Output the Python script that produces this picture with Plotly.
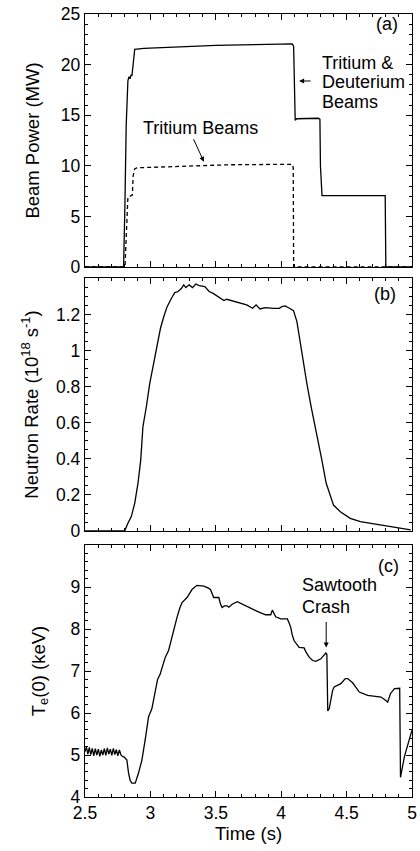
import plotly.graph_objects as go

# ---------------- data ----------------
# (a) beam power, MW
t_td = [2.50, 2.795, 2.805, 2.815, 2.828, 2.836, 2.845, 2.852, 2.859, 2.870, 2.880, 2.95, 3.10, 3.30,
        3.50, 3.70, 3.90, 4.05, 4.085, 4.095, 4.100, 4.107, 4.12, 4.20, 4.285, 4.296, 4.300, 4.312,
        4.40, 4.60, 4.795, 4.800, 5.00]
p_td = [0, 0, 6.0, 14.0, 18.4, 18.8, 18.6, 19.0, 18.9, 20.6, 21.5, 21.6, 21.7, 21.8,
        21.9, 21.95, 22.0, 22.05, 22.05, 21.8, 17.0, 14.5, 14.65, 14.7, 14.7, 14.6, 10.0, 7.05,
        7.05, 7.05, 7.05, 0, 0]

t_t = [2.50, 2.806, 2.812, 2.828, 2.845, 2.862, 2.868, 2.880, 2.895, 3.00, 3.20, 3.40, 3.60,
       3.80, 4.00, 4.085, 4.092, 4.095, 5.00]
p_t = [0, 0, 2.0, 6.9, 7.0, 7.1, 9.0, 9.7, 9.8, 9.85, 9.95, 10.05, 10.1,
       10.12, 10.15, 10.15, 9.8, 0, 0]

# (b) neutron rate, 1e18 /s
t_n = [2.50, 2.803, 2.828, 2.854, 2.880, 2.905, 2.926, 2.943, 2.969, 2.995, 3.020, 3.046, 3.077,
       3.102, 3.128, 3.161, 3.186, 3.212, 3.238, 3.255, 3.271, 3.296, 3.322, 3.347, 3.373, 3.416,
       3.449, 3.480, 3.506, 3.537, 3.562, 3.583, 3.621, 3.660, 3.710, 3.736, 3.782, 3.808, 3.838,
       3.877, 3.940, 3.986, 4.005, 4.030, 4.063, 4.094, 4.120, 4.145, 4.166, 4.196, 4.229, 4.260,
       4.278, 4.311, 4.344, 4.375, 4.400, 4.452, 4.528, 4.605, 4.707, 4.835, 4.937, 4.990]
n_rate = [0, 0, 0.043, 0.080, 0.154, 0.265, 0.394, 0.580, 0.690, 0.820, 0.913, 1.006, 1.126,
          1.190, 1.246, 1.293, 1.324, 1.330, 1.348, 1.367, 1.352, 1.367, 1.352, 1.372, 1.363, 1.357,
          1.330, 1.320, 1.306, 1.293, 1.280, 1.287, 1.280, 1.272, 1.265, 1.256, 1.237, 1.256, 1.233,
          1.241, 1.237, 1.237, 1.246, 1.250, 1.237, 1.224, 1.163, 1.043, 0.969, 0.820, 0.690, 0.580,
          0.524, 0.394, 0.265, 0.191, 0.144, 0.107, 0.070, 0.052, 0.039, 0.024, 0.009, 0.006]

# (c) central electron temperature, keV
t_te = [2.500, 2.511, 2.522, 2.533, 2.544, 2.556, 2.567, 2.579, 2.590, 2.602, 2.613, 2.625, 2.636,
        2.648, 2.659, 2.671, 2.682, 2.694, 2.705, 2.717, 2.728, 2.740, 2.751, 2.763, 2.775, 2.785,
        2.800,
        2.820, 2.833, 2.845, 2.858, 2.884, 2.909, 2.935, 2.960, 2.986, 3.011, 3.037, 3.055, 3.075,
        3.095, 3.114, 3.139, 3.165, 3.185, 3.203, 3.225, 3.242, 3.280, 3.300, 3.318, 3.356, 3.408,
        3.440, 3.459, 3.484, 3.523, 3.535, 3.548, 3.565, 3.587, 3.600, 3.625, 3.664, 3.715, 3.760,
        3.817, 3.881, 3.920, 3.932, 3.945, 3.958, 3.996, 4.047, 4.060, 4.073, 4.085, 4.099, 4.137,
        4.175, 4.190, 4.214, 4.240, 4.265, 4.303, 4.325, 4.341, 4.349, 4.352, 4.356, 4.367, 4.380,
        4.393, 4.405, 4.456, 4.490, 4.508, 4.546, 4.575, 4.597, 4.661, 4.763, 4.800, 4.814, 4.835,
        4.866, 4.906, 4.909, 4.912, 4.942, 4.980, 5.000]
te0 = [5.08, 5.19, 5.02, 5.18, 5.01, 5.16, 4.98, 5.15, 5.00, 5.14, 4.97, 5.12, 5.00,
       5.15, 4.99, 5.17, 5.02, 5.14, 4.99, 5.16, 5.01, 5.13, 4.98, 5.12, 5.00, 4.97,
       4.95,
       4.88, 4.57, 4.40, 4.33, 4.33, 4.57, 4.88, 5.36, 5.91, 6.10, 6.54, 6.80, 6.93,
       7.15, 7.33, 7.49, 7.80, 8.10, 8.27, 8.50, 8.63, 8.75, 8.85, 8.94, 9.04, 9.02,
       8.98, 8.94, 8.75, 8.75, 8.60, 8.51, 8.55, 8.55, 8.52, 8.59, 8.65, 8.57, 8.50,
       8.42, 8.34, 8.34, 8.45, 8.38, 8.29, 8.24, 8.24, 8.15, 8.04, 7.85, 7.72, 7.56,
       7.55, 7.45, 7.33, 7.25, 7.23, 7.29, 7.38, 7.43, 7.40, 6.60, 6.05, 6.10, 6.35,
       6.54, 6.62, 6.70, 6.82, 6.82, 6.72, 6.58, 6.50, 6.42, 6.38, 6.30, 6.26, 6.46,
       6.58, 6.59, 5.50, 4.47, 4.96, 5.40, 5.59]

x_tickvals = [2.5, 3, 3.5, 4, 4.5, 5]
x_ticktext = ["2.5", "3", "3.5", "4", "4.5", "5"]
ya_tickvals = [0, 5, 10, 15, 20, 25]
yb_tickvals = [0, 0.2, 0.4, 0.6, 0.8, 1.0, 1.2]
yb_ticktext = ["0", "0.2", "0.4", "0.6", "0.8", "1", "1.2"]
yc_tickvals = [4, 5, 6, 7, 8, 9]

# ---------------- figure ----------------
FONT = "Liberation Sans, Arial, Helvetica, sans-serif"
LW = 1.4
TICKF = dict(family=FONT, size=17.5, color="black")
TITLEF = dict(family=FONT, size=18.5, color="black")
TXT = dict(family=FONT, size=18, color="black")

fig = go.Figure()
fig.add_trace(go.Scatter(x=t_td, y=p_td, mode="lines", line=dict(color="black", width=1.3),
                         xaxis="x", yaxis="y", showlegend=False))
fig.add_trace(go.Scatter(x=t_t, y=p_t, mode="lines", line=dict(color="black", width=1.3, dash="4px,3px"),
                         xaxis="x", yaxis="y", showlegend=False))
fig.add_trace(go.Scatter(x=t_n, y=n_rate, mode="lines", line=dict(color="black", width=1.3),
                         xaxis="x2", yaxis="y2", showlegend=False))
fig.add_trace(go.Scatter(x=t_te, y=te0, mode="lines", line=dict(color="black", width=1.3),
                         xaxis="x3", yaxis="y3", showlegend=False))


def xax(anchor, labels):
    return dict(range=[2.5, 5], anchor=anchor, domain=[0, 1], showgrid=False, zeroline=False,
                showline=True, linecolor="black", linewidth=LW, mirror="ticks",
                ticks="inside", ticklen=6, tickwidth=1, tickcolor="black",
                tickvals=x_tickvals, ticktext=x_ticktext, showticklabels=labels,
                minor=dict(dtick=0.1, tick0=2.5, ticks="inside", ticklen=3, tickwidth=1,
                           tickcolor="black", showgrid=False),
                tickfont=TICKF)


def yax(anchor, dom, rng, tv, tt, minor_dt, title, standoff):
    return dict(range=rng, anchor=anchor, domain=dom, showgrid=False, zeroline=False,
                showline=True, linecolor="black", linewidth=LW, mirror="ticks",
                ticks="inside", ticklen=6, tickwidth=1, tickcolor="black",
                tickvals=tv, ticktext=tt,
                minor=dict(dtick=minor_dt, tick0=rng[0], ticks="inside", ticklen=3, tickwidth=1,
                           tickcolor="black", showgrid=False),
                tickfont=TICKF,
                title=dict(text=title, font=TITLEF, standoff=standoff))


fig.update_layout(
    width=420, height=851,
    margin=dict(l=85, r=8, t=14, b=54, autoexpand=False),
    paper_bgcolor="white", plot_bgcolor="white",
    font=dict(family=FONT, size=16, color="black"),
    xaxis=xax("y", False),
    xaxis2=xax("y2", False),
    xaxis3=dict(xax("y3", True), title=dict(text="Time (s)", font=TITLEF, standoff=2)),
    yaxis=yax("x", [0.6769, 1.0], [0, 25], ya_tickvals, [str(v) for v in ya_tickvals], 1,
              "Beam Power (MW)", 16),
    yaxis2=yax("x2", [0.3397, 0.6628], [0, 1.405], yb_tickvals, yb_ticktext, 0.05,
               "Neutron Rate (10<sup>18</sup> s<sup>-1</sup>)", 12),
    yaxis3=yax("x3", [0.0, 0.3218], [4, 10], yc_tickvals, [str(v) for v in yc_tickvals], 0.2,
               "T<sub>e</sub>(0) (keV)", 20),
)

ann = [
    dict(x=4.812, y=24.0, xref="x", yref="y", text="(a)", showarrow=False, font=TXT),
    dict(x=4.293, y=20.16, xref="x", yref="y", text="Tritium &", showarrow=False, font=TXT,
         xanchor="left"),
    dict(x=4.293, y=18.28, xref="x", yref="y", text="Deuterium", showarrow=False, font=TXT,
         xanchor="left"),
    dict(x=4.293, y=16.30, xref="x", yref="y", text="Beams", showarrow=False, font=TXT,
         xanchor="left"),
    dict(x=3.384, y=13.7, xref="x", yref="y", text="Tritium Beams", showarrow=False, font=TXT),
    dict(x=3.409, y=10.4, xref="x", yref="y", text="", showarrow=True, ax=-11, ay=-24,
         arrowhead=2, arrowsize=1, arrowwidth=1, arrowcolor="black"),
    dict(x=4.137, y=18.38, xref="x", yref="y", text="", showarrow=True, ax=13, ay=0,
         arrowhead=2, arrowsize=1, arrowwidth=1, arrowcolor="black"),
    dict(x=4.797, y=1.317, xref="x2", yref="y2", text="(b)", showarrow=False, font=TXT),
    dict(x=4.82, y=9.5, xref="x3", yref="y3", text="(c)", showarrow=False, font=TXT),
    dict(x=4.145, y=9.05, xref="x3", yref="y3", text="Sawtooth", showarrow=False, font=TXT,
         xanchor="left"),
    dict(x=4.145, y=8.53, xref="x3", yref="y3", text="Crash", showarrow=False, font=TXT,
         xanchor="left"),
    dict(x=4.344, y=7.56, xref="x3", yref="y3", text="", showarrow=True, ax=0, ay=-27,
         arrowhead=2, arrowsize=1, arrowwidth=1, arrowcolor="black"),
]
fig.update_layout(annotations=ann)

fig.write_html("out.html")
